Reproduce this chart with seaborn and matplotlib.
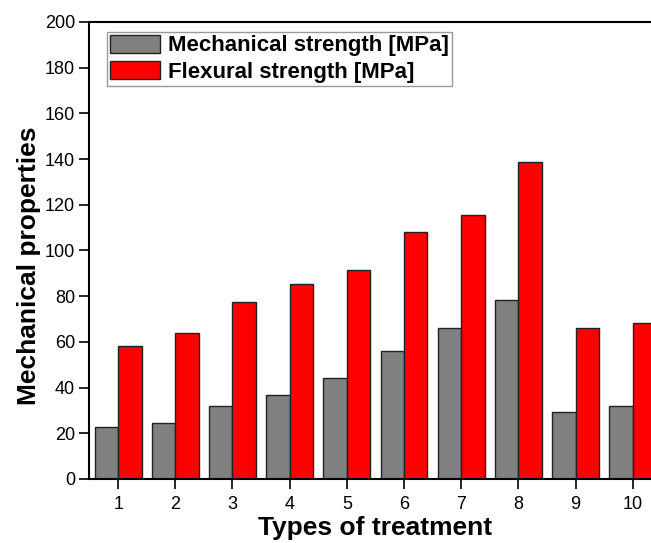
import matplotlib
matplotlib.use("Agg")
import matplotlib.pyplot as plt
import seaborn as sns
import pandas as pd

treatments = ["1", "2", "3", "4", "5", "6", "7", "8", "9", "10"]
mechanical = [22.7, 24.5, 32.0, 36.9, 44.3, 56.2, 66.2, 78.2, 29.2, 32.0]
flexural = [58.3, 63.9, 77.3, 85.2, 91.5, 108.2, 115.7, 138.8, 66.2, 68.4]
series_names = ["Mechanical strength [MPa]", "Flexural strength [MPa]"]
y_ticks = [0, 20, 40, 60, 80, 100, 120, 140, 160, 180, 200]

df = pd.DataFrame({
    "Treatment": treatments * 2,
    "Value": mechanical + flexural,
    "Series": [series_names[0]] * len(treatments) + [series_names[1]] * len(treatments),
})

sns.set_theme(style="white")
plt.rcParams["font.family"] = ["Liberation Sans", "DejaVu Sans"]

fig = plt.figure(figsize=(6.51, 5.43), dpi=100)
ax = fig.add_axes([0.1367, 0.1179, 0.8633, 0.8416])

sns.barplot(data=df, x="Treatment", y="Value", hue="Series", order=treatments,
            hue_order=series_names, palette=["#808080", "#FF0000"],
            width=0.82, saturation=1, edgecolor="#222222", linewidth=1.0,
            ax=ax)

ax.set_xlim(-0.51, 9.32)
ax.set_ylim(0, 200)
ax.set_yticks(y_ticks)
ax.set_yticklabels([str(v) for v in y_ticks])

for s in ["left", "bottom", "top"]:
    ax.spines[s].set_visible(True)
    ax.spines[s].set_color("black")
    ax.spines[s].set_linewidth(1.5)
ax.spines["right"].set_visible(False)

ax.tick_params(axis="both", which="major", direction="out", length=7,
               width=1.2, color="black", labelsize=13, labelcolor="black",
               bottom=True, left=True, pad=3)
ax.tick_params(axis="x", pad=5)

ax.set_xlabel("Types of treatment", fontsize=19, fontweight="bold", color="black")
ax.set_ylabel("Mechanical properties", fontsize=19, fontweight="bold", color="black")
ax.xaxis.set_label_coords(0.509, -0.082)
ax.yaxis.set_label_coords(-0.086, 0.466)

leg = ax.legend(loc="upper left", bbox_to_anchor=(0.032, 0.978), frameon=True,
                fancybox=False, edgecolor="#999999", framealpha=1,
                prop={"weight": "bold", "size": 16}, handlelength=2.25,
                handleheight=0.86, handletextpad=0.38, borderpad=0.12,
                labelspacing=0.22, borderaxespad=0)
leg.get_frame().set_linewidth(1.0)
for t in leg.get_texts():
    t.set_color("black")

fig.savefig("out.png", dpi=100)
